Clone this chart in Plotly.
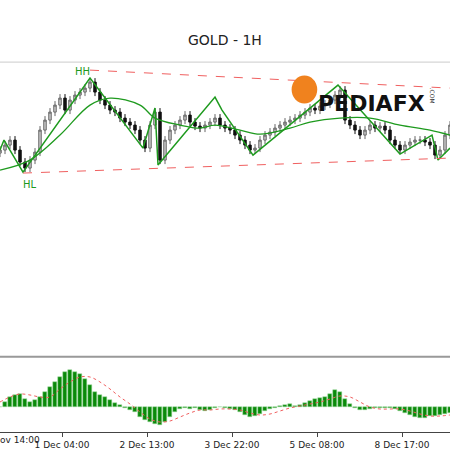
import plotly.graph_objects as go

# bar positions (one bar every 5 units) and close levels
bar_x = list(range(0, 451, 5))
close = [150, 145, 140, 150, 162, 168, 160, 152, 130, 120, 112, 105, 98, 110, 100, 95, 92, 88, 82,
         92, 100, 105, 110, 112, 118, 122, 125, 130, 140, 148, 125, 112, 160, 140, 130, 125, 120,
         115, 122, 126, 128, 125, 122, 118, 125, 128, 130, 135, 140, 145, 150, 148, 140, 135, 132,
         128, 125, 122, 120, 118, 115, 112, 108, 110, 106, 104, 100, 95, 90, 120, 125, 130, 135,
         130, 125, 128, 126, 130, 140, 145, 150, 145, 142, 140, 140, 142, 145, 155, 150, 135, 125]
close = [300 - v for v in close]
open_ = [close[0] - 3] + close[:-1]

zz_x = [0, 4, 23, 90, 143, 155, 158, 215, 222, 253, 338, 400, 432, 438, 450]
zz_y = [150, 140, 172, 78, 148, 108, 165, 97, 110, 155, 85, 154, 135, 160, 148]
ma_x = [0, 30, 60, 90, 110, 140, 155, 180, 200, 215, 240, 260, 290, 310, 340, 370, 400, 430, 450]
ma_y = [170, 160, 135, 105, 98, 105, 118, 125, 128, 125, 130, 134, 128, 122, 118, 118, 125, 130, 135]
top_line = ([90, 450], [70, 88])
bottom_line = ([23, 450], [173, 158])

hist = [0, 5, 10, 12, 13, 8, 5, 7, 10, 15, 20, 25, 30, 35, 37, 35, 33, 28, 22, 15, 12, 10, 7, 4,
        2, -1, -3, -5, -10, -13, -15, -17, -18, -15, -10, -5, -2, -1, -2, -1, -3, -4, -3, -1, 0,
        -1, -2, -3, -5, -8, -10, -9, -7, -4, -2, -1, 1, 2, 3, 1, 2, 4, 6, 8, 9, 10, 13, 17, 15, 8,
        3, -1, -3, -3, -2, -1, -1, -1, -1, -2, -4, -6, -8, -10, -11, -11, -9, -9, -8, -7, -6]
sig_x = list(range(0, 451, 10))
signal = [5, 10, 13, 12, 10, 10, 18, 25, 30, 30, 25, 18, 10, 3, -5, -12, -15, -14, -10, -6, -3, -3,
          -2, -2, -3, -6, -8, -7, -4, -1, 1, 3, 5, 8, 11, 10, 5, 0, -2, -2, -2, -4, -7, -9, -9, -8]

tick_pos = [62, 147, 232, 317, 402]
tick_text = ["1 Dec 04:00", "2 Dec 13:00", "3 Dec 22:00", "5 Dec 08:00", "8 Dec 17:00"]

fig = go.Figure()
fig.add_trace(go.Candlestick(
    x=bar_x, open=open_, close=close,
    high=[max(o, c) + 4 for o, c in zip(open_, close)],
    low=[min(o, c) - 4 for o, c in zip(open_, close)],
    increasing=dict(line=dict(color="#666", width=1), fillcolor="#ccc"),
    decreasing=dict(line=dict(color="#111", width=1), fillcolor="#111"),
    whiskerwidth=0, xaxis="x", yaxis="y"))
fig.add_trace(go.Scatter(x=ma_x, y=[300 - v for v in ma_y], mode="lines", line=dict(color="#1e9a1e", width=1.3, shape="spline")))
fig.add_trace(go.Scatter(x=zz_x, y=[300 - v for v in zz_y], mode="lines", line=dict(color="#1e9a1e", width=1.5)))
for lx, ly in (top_line, bottom_line):
    fig.add_trace(go.Scatter(x=lx, y=[300 - v for v in ly], mode="lines", line=dict(color="#f06060", width=1, dash="dash")))

fig.add_trace(go.Bar(x=bar_x, y=hist, marker=dict(color="#0a8a0a", line=dict(color="#9cd89c", width=0.5)),
                     width=4, xaxis="x2", yaxis="y2"))
fig.add_trace(go.Scatter(x=sig_x, y=signal, mode="lines", line=dict(color="#f06060", width=1, dash="dot", shape="spline"),
                         xaxis="x2", yaxis="y2"))

fig.update_layout(
    width=450, height=450, margin=dict(l=0, r=0, t=0, b=0, autoexpand=False),
    paper_bgcolor="white", plot_bgcolor="white", showlegend=False,
    xaxis=dict(domain=[0, 1], range=[0, 450], visible=False, rangeslider=dict(visible=False), anchor="y"),
    yaxis=dict(domain=[0.211, 0.862], range=[-55, 238], visible=False),
    xaxis2=dict(domain=[0, 1], range=[0, 450], anchor="y2", tickvals=tick_pos, ticktext=tick_text,
                ticks="outside", ticklen=4, tickcolor="#444", showgrid=False, zeroline=False,
                showline=True, linecolor="#444", tickfont=dict(family="DejaVu Sans", size=9, color="#222")),
    yaxis2=dict(domain=[0.04, 0.2], range=[-25, 47], visible=False),
    bargap=0,
    shapes=[
        dict(type="line", xref="paper", yref="paper", x0=0, x1=1, y0=0.862, y1=0.862, line=dict(color="#ccc", width=1)),
        dict(type="line", xref="paper", yref="paper", x0=0, x1=1, y0=0.207, y1=0.207, line=dict(color="#999", width=2)),
        dict(type="circle", xref="paper", yref="paper", x0=0.648, x1=0.705, y0=0.77, y1=0.832,
             fillcolor="#f0821e", line=dict(width=0)),
    ],
    annotations=[
        dict(text="GOLD - 1H", xref="paper", yref="paper", x=0.5, y=0.933, showarrow=False,
             font=dict(family="DejaVu Sans", size=14, color="#222")),
        dict(text="<b>PEDIAFX</b>", xref="paper", yref="paper", x=0.825, xanchor="center", y=0.803, showarrow=False,
             font=dict(family="DejaVu Sans", size=22, color="#111")),
        dict(text=".COM", xref="paper", yref="paper", x=0.962, xanchor="center", y=0.81, showarrow=False, textangle=90,
             font=dict(family="DejaVu Sans", size=6, color="#333")),
        dict(text="HH", x=82, y=300 - 71, showarrow=False, font=dict(family="DejaVu Sans", size=10, color="#1e9a1e")),
        dict(text="HL", x=30, y=300 - 184, showarrow=False, font=dict(family="DejaVu Sans", size=10, color="#1e9a1e")),
        dict(text="30 Nov 14:00", xref="x2", yref="paper", x=9, y=0.037, yanchor="top", showarrow=False,
             font=dict(family="DejaVu Sans", size=9, color="#222")),
    ],
)
fig.write_html("out.html", config={"displayModeBar": False},
               post_script="document.body.style.margin='0';")
